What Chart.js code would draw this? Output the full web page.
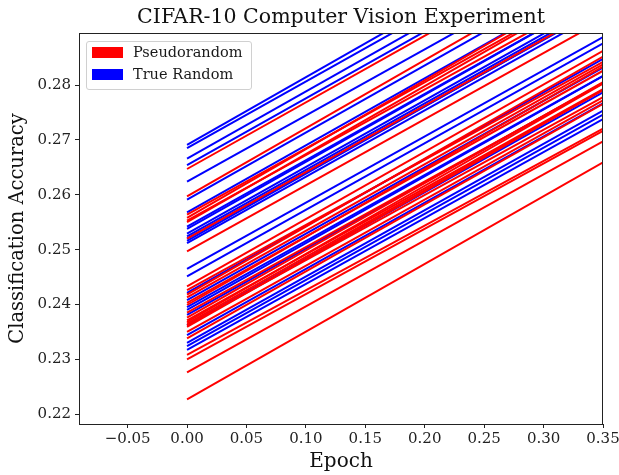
<!DOCTYPE html>
<html>
<head>
<meta charset="utf-8">
<script src="https://cdn.jsdelivr.net/npm/chart.js@4"></script>
<style>
    body { margin: 0; background: #fff; }
    #wrap { position: relative; width: 619px; height: 475px; }
    #legend {
        position: absolute; left: 86px; top: 41px; width: 166px; height: 49px; box-sizing: border-box;
        border: 1px solid #d0d0d0; border-radius: 3px; background: rgba(255,255,255,0.85);
        font-family: "DejaVu Serif", serif; font-size: 14.5px; color: #1a1a1a;
    }
    .patch { position: absolute; left: 5px; width: 31px; height: 11px; }
    .label { position: absolute; left: 46px; height: 18px; line-height: 18px; white-space: nowrap; }
</style>
</head>
<body>
<div id="wrap">
    <canvas id="chart" width="619" height="475"></canvas>
    <div id="legend">
        <div class="patch" style="top:5px;background:#ff0000"></div>
        <div class="label" style="top:1px">Pseudorandom</div>
        <div class="patch" style="top:27px;background:#0000ff"></div>
        <div class="label" style="top:23px">True Random</div>
    </div>
</div>
<script>

const epochs = [0, 1];

// accuracy at epoch 0 and epoch 1, one run per index
const pseudoStart = [0.2647, 0.2597, 0.2564, 0.2558, 0.2553, 0.2550, 0.2520, 0.2497, 0.2433, 0.2426,
    0.2418, 0.2413, 0.2403, 0.2399, 0.2385, 0.2376, 0.2371, 0.2368, 0.2365, 0.2362,
    0.2359, 0.2350, 0.2338, 0.2308, 0.2300, 0.2276, 0.2227];
const pseudoEnd = [0.3862, 0.3840, 0.3770, 0.3812, 0.3748, 0.3791, 0.3733, 0.3702, 0.3660, 0.3615,
    0.3658, 0.3627, 0.3612, 0.3641, 0.3581, 0.3603, 0.3575, 0.3610, 0.3582, 0.3551,
    0.3594, 0.3556, 0.3560, 0.3487, 0.3490, 0.3480, 0.3461];

const trueStart = [0.2691, 0.2685, 0.2666, 0.2654, 0.2624, 0.2591, 0.2568, 0.2542, 0.2538, 0.2529,
    0.2524, 0.2520, 0.2516, 0.2512, 0.2465, 0.2451, 0.2421, 0.2408, 0.2395, 0.2390,
    0.2381, 0.2362, 0.2344, 0.2330, 0.2324, 0.2317];
const trueEnd = [0.3925, 0.3900, 0.3890, 0.3872, 0.3830, 0.3815, 0.3790, 0.3752, 0.3760, 0.3745,
    0.3737, 0.3728, 0.3741, 0.3722, 0.3672, 0.3665, 0.3640, 0.3619, 0.3600, 0.3608,
    0.3590, 0.3575, 0.3552, 0.3540, 0.3530, 0.3520];

const xTicks = [-0.05, 0, 0.05, 0.10, 0.15, 0.20, 0.25, 0.30, 0.35];
const yTicks = [0.22, 0.23, 0.24, 0.25, 0.26, 0.27, 0.28];

const serif = "'DejaVu Serif', serif";

function run(start, end, color) {
    return {
        data: [{ x: epochs[0], y: start }, { x: epochs[1], y: end }],
        borderColor: color,
        borderWidth: 2,
        pointRadius: 0,
        fill: false,
        clip: 0
    };
}

const datasets = [];
const n = Math.max(pseudoStart.length, trueStart.length);
for (let i = 0; i < n; i++) {
    if (i < pseudoStart.length) datasets.push(run(pseudoStart[i], pseudoEnd[i], "#ff0000"));
    if (i < trueStart.length) datasets.push(run(trueStart[i], trueEnd[i], "#0000ff"));
}

const frame = {
    id: "frame",
    afterDatasetsDraw(chart) {
        const a = chart.chartArea;
        const ctx = chart.ctx;
        ctx.save();
        ctx.strokeStyle = "#222";
        ctx.lineWidth = 1;
        ctx.strokeRect(a.left + 0.5, a.top + 0.5, a.right - a.left - 1, a.bottom - a.top);
        ctx.restore();
    }
};

new Chart(document.querySelector("#chart"), {
    type: "line",
    data: { datasets },
    plugins: [frame],
    options: {
        responsive: false,
        animation: false,
        layout: { padding: { right: 16 } },
        plugins: {
            legend: { display: false },
            tooltip: { enabled: false },
            title: {
                display: true,
                fullSize: false,
                text: "CIFAR-10 Computer Vision Experiment",
                color: "#111",
                font: { family: serif, size: 20.5, weight: "normal" },
                padding: { top: 5, bottom: 3.4 }
            }
        },
        scales: {
            x: {
                type: "linear",
                min: -0.0909,
                max: 0.35,
                afterBuildTicks: s => { s.ticks = xTicks.map(v => ({ value: v })); },
                afterFit: s => { s.height = 51; s.paddingRight = 0; s.paddingLeft = 0; },
                grid: { drawOnChartArea: false, color: "#222", tickLength: 4 },
                border: { color: "#222" },
                ticks: {
                    color: "#222",
                    font: { family: serif, size: 15 },
                    padding: 2,
                    maxRotation: 0,
                    callback: v => (v < 0 ? "\u2212" : "") + Math.abs(v).toFixed(2)
                },
                title: {
                    display: true,
                    text: "Epoch",
                    color: "#111",
                    font: { family: serif, size: 20 },
                    padding: { top: 0, bottom: 1 }
                }
            },
            y: {
                min: 0.2182,
                max: 0.2895,
                afterBuildTicks: s => { s.ticks = yTicks.map(v => ({ value: v })); },
                afterFit: s => { s.width = 79; },
                grid: { drawOnChartArea: false, color: "#222", tickLength: 4 },
                border: { color: "#222" },
                ticks: {
                    color: "#222",
                    font: { family: serif, size: 15 },
                    padding: 4,
                    callback: v => v.toFixed(2)
                },
                title: {
                    display: true,
                    text: "Classification Accuracy",
                    color: "#111",
                    font: { family: serif, size: 19.5 },
                    padding: { top: 6, bottom: 0 }
                }
            }
        }
    }
});
</script>
</body>
</html>
